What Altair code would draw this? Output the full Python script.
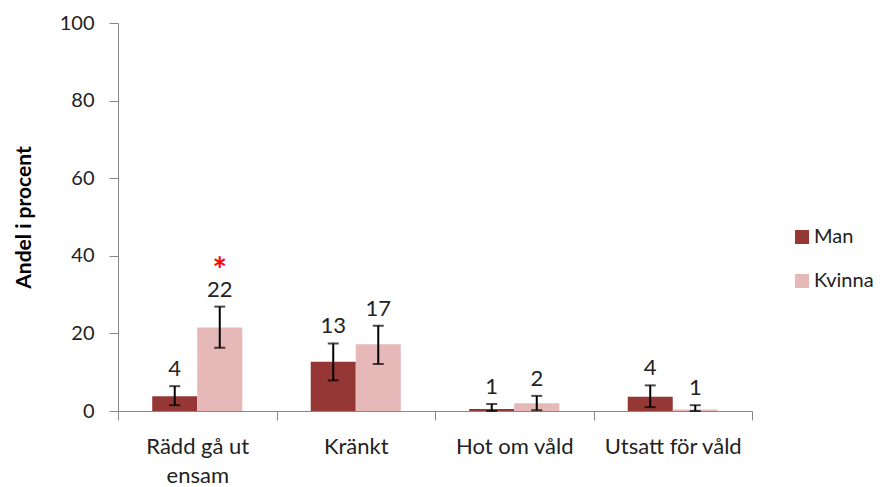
import altair as alt
import pandas as pd

categories = ["Rädd gå ut ensam", "Kränkt", "Hot om våld", "Utsatt för våld"]
groups = ["Man", "Kvinna"]
man_values = [3.8, 12.7, 0.5, 3.7]
kvinna_values = [21.5, 17.2, 2.0, 0.4]
man_lo = [1.5, 7.9, 0.0, 1.0]
man_hi = [6.4, 17.4, 1.8, 6.6]
kvinna_lo = [16.3, 12.1, 0.2, 0.0]
kvinna_hi = [26.9, 22.0, 3.9, 1.5]
man_labels = ["4", "13", "1", "4"]
kvinna_labels = ["22", "17", "2", "1"]
man_marks = ["", "", "", ""]
kvinna_marks = ["*", "", "", ""]

rows = []
for i, c in enumerate(categories):
    rows.append(dict(cat=c, sex="Man", value=man_values[i], lo=man_lo[i], hi=man_hi[i],
                     label=man_labels[i], mark=man_marks[i]))
    rows.append(dict(cat=c, sex="Kvinna", value=kvinna_values[i], lo=kvinna_lo[i], hi=kvinna_hi[i],
                     label=kvinna_labels[i], mark=kvinna_marks[i]))
df = pd.DataFrame(rows)

FONT = "Lato"
TXT = "#222222"
AXC = "#888888"

x_enc = alt.X("cat:N", sort=categories, title=None,
              scale=alt.Scale(paddingInner=0, paddingOuter=0),
              axis=alt.Axis(tickBand="extent", labelAngle=0, labelFontSize=22, labelFont=FONT,
                            labelColor=TXT, labelPadding=16, labelLineHeight=29,
                            labelExpr="datum.value == 'Rädd gå ut ensam' ? ['Rädd gå ut', 'ensam'] : datum.value",
                            domainColor=AXC, tickColor=AXC, tickSize=9, labelBaseline="top",
                            labelLimit=300))
xo_enc = alt.XOffset("sex:N", sort=groups, scale=alt.Scale(paddingOuter=0.76, paddingInner=0))
y_scale = alt.Scale(domain=[0, 100])

base = alt.Chart(df)

bars = base.mark_bar().encode(
    x=x_enc, xOffset=xo_enc,
    y=alt.Y("value:Q", scale=y_scale, title="Andel i procent",
            axis=alt.Axis(values=[0, 20, 40, 60, 80, 100], grid=False, labelFontSize=20,
                          labelFont=FONT, labelColor=TXT, labelPadding=15, tickSize=9,
                          domainColor=AXC, tickColor=AXC, titleFont=FONT, titleFontSize=21,
                          titleFontWeight="bold", titleColor="#000000", titlePadding=25)),
    color=alt.Color("sex:N", sort=groups,
                    scale=alt.Scale(domain=groups, range=["#953735", "#E6B9B8"]),
                    legend=alt.Legend(title=None, orient="none", legendX=674, legendY=204,
                                      symbolType="square", symbolSize=196, symbolStrokeWidth=0,
                                      labelFontSize=20, labelFont=FONT, labelColor=TXT,
                                      rowPadding=24, labelOffset=2, labelLimit=200)),
)

rules = base.mark_rule(color="black", strokeWidth=2).encode(
    x=alt.X("cat:N", sort=categories), xOffset=xo_enc,
    y=alt.Y("lo:Q", scale=y_scale), y2="hi:Q")

cap_lo = base.mark_tick(color="black", thickness=2, size=11, orient="horizontal").encode(
    x=alt.X("cat:N", sort=categories), xOffset=xo_enc, y=alt.Y("lo:Q", scale=y_scale))
cap_hi = base.mark_tick(color="black", thickness=2, size=11, orient="horizontal").encode(
    x=alt.X("cat:N", sort=categories), xOffset=xo_enc, y=alt.Y("hi:Q", scale=y_scale))

labels = base.mark_text(baseline="bottom", dy=-5, fontSize=22, font=FONT, color=TXT).encode(
    x=alt.X("cat:N", sort=categories), xOffset=xo_enc, y=alt.Y("hi:Q", scale=y_scale),
    text="label:N")

stars = base.mark_text(baseline="bottom", dy=-18, fontSize=34, font=FONT, color="#FF0000",
                       fontWeight="bold").encode(
    x=alt.X("cat:N", sort=categories), xOffset=xo_enc, y=alt.Y("hi:Q", scale=y_scale),
    text="mark:N")

chart = alt.layer(bars, rules, cap_lo, cap_hi, labels, stars).properties(
    width=634, height=388,
    autosize=alt.AutoSizeParams(type="none"),
    padding={"left": 110, "top": 15, "right": 127, "bottom": 84},
).configure(background="white").configure_view(stroke=None).configure_axis(grid=False)

chart.save("out.html", embed_options={"renderer": "svg", "actions": False})
